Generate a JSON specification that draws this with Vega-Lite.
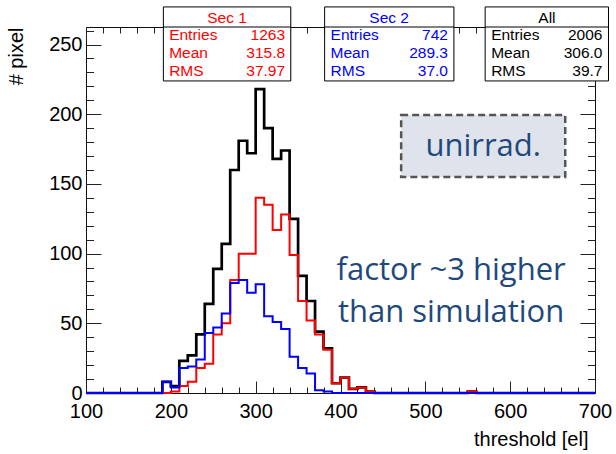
{
"$schema": "https://vega.github.io/schema/vega-lite/v6.json",
"width": 509, "height": 366,
"autosize": {"type": "none"},
"padding": {"left": 86, "top": 27, "right": 21, "bottom": 61},
"background": "white",
"config": {"font": "Liberation Sans", "view": {"stroke": "#111", "strokeWidth": 1},
 "axis": {"grid": false, "domain": false, "tickColor": "#222", "labelColor": "#000", "labelFont": "Liberation Sans", "labelFontSize": 20, "labelFlush": false, "labelOverlap": false, "titleFont": "Liberation Sans", "titleFontSize": 20, "titleFontWeight": "normal", "titleColor": "#000"}},
"datasets": {"hist": [
{"bin":100,"all":0,"sec1":0,"sec2":0},{"bin":110,"all":0,"sec1":0,"sec2":0},{"bin":120,"all":0,"sec1":0,"sec2":0},{"bin":130,"all":0,"sec1":0,"sec2":0},{"bin":140,"all":0,"sec1":0,"sec2":0},{"bin":150,"all":0,"sec1":0,"sec2":0},{"bin":160,"all":0,"sec1":0,"sec2":0},{"bin":170,"all":0,"sec1":0,"sec2":0},{"bin":180,"all":0,"sec1":0,"sec2":0},
{"bin":190,"all":8,"sec1":0,"sec2":8},{"bin":200,"all":5,"sec1":1,"sec2":4},{"bin":210,"all":23,"sec1":5,"sec2":18},{"bin":220,"all":27,"sec1":8,"sec2":19},{"bin":230,"all":42,"sec1":18,"sec2":24},{"bin":240,"all":64,"sec1":21,"sec2":43},{"bin":250,"all":89,"sec1":42,"sec2":47},{"bin":260,"all":107,"sec1":50,"sec2":57},{"bin":270,"all":160,"sec1":81,"sec2":79},{"bin":280,"all":181,"sec1":100,"sec2":81},{"bin":290,"all":172,"sec1":100,"sec2":72},{"bin":300,"all":218,"sec1":140,"sec2":78},{"bin":310,"all":190,"sec1":135,"sec2":55},{"bin":320,"all":168,"sec1":117,"sec2":51},{"bin":330,"all":174,"sec1":128,"sec2":46},{"bin":340,"all":125,"sec1":99,"sec2":26},{"bin":350,"all":84,"sec1":66,"sec2":18},{"bin":360,"all":66,"sec1":52,"sec2":14},{"bin":370,"all":44,"sec1":42,"sec2":2},{"bin":380,"all":32,"sec1":31,"sec2":1},{"bin":390,"all":7,"sec1":7,"sec2":0},{"bin":400,"all":11,"sec1":11,"sec2":0},{"bin":410,"all":3,"sec1":3,"sec2":0},{"bin":420,"all":4,"sec1":4,"sec2":0},{"bin":430,"all":1,"sec1":1,"sec2":0},
{"bin":440,"all":0,"sec1":0,"sec2":0},{"bin":450,"all":0,"sec1":0,"sec2":0},{"bin":460,"all":0,"sec1":0,"sec2":0},{"bin":470,"all":0,"sec1":0,"sec2":0},{"bin":480,"all":0,"sec1":0,"sec2":0},{"bin":490,"all":0,"sec1":0,"sec2":0},{"bin":500,"all":0,"sec1":0,"sec2":0},{"bin":510,"all":0,"sec1":0,"sec2":0},{"bin":520,"all":0,"sec1":0,"sec2":0},{"bin":530,"all":0,"sec1":0,"sec2":0},{"bin":540,"all":0,"sec1":0,"sec2":0},
{"bin":550,"all":1,"sec1":1,"sec2":0},
{"bin":560,"all":0,"sec1":0,"sec2":0},{"bin":570,"all":0,"sec1":0,"sec2":0},{"bin":580,"all":0,"sec1":0,"sec2":0},{"bin":590,"all":0,"sec1":0,"sec2":0},{"bin":600,"all":0,"sec1":0,"sec2":0},{"bin":610,"all":0,"sec1":0,"sec2":0},{"bin":620,"all":0,"sec1":0,"sec2":0},{"bin":630,"all":0,"sec1":0,"sec2":0},{"bin":640,"all":0,"sec1":0,"sec2":0},{"bin":650,"all":0,"sec1":0,"sec2":0},{"bin":660,"all":0,"sec1":0,"sec2":0},{"bin":670,"all":0,"sec1":0,"sec2":0},{"bin":680,"all":0,"sec1":0,"sec2":0},{"bin":690,"all":0,"sec1":0,"sec2":0},{"bin":700,"all":0,"sec1":0,"sec2":0}
]},
"resolve": {"axis": {"x": "independent", "y": "independent"}},
"layer": [
 {"data": {"name": "hist"},
  "mark": {"type": "line", "interpolate": "step-after", "color": "#000", "strokeWidth": 2.7},
  "encoding": {
   "x": {"field": "bin", "type": "quantitative", "scale": {"domain": [100, 700], "nice": false, "zero": false},
     "axis": {"orient": "bottom", "values": [100,200,300,400,500,600,700], "tickSize": -12, "labelPadding": 20, "title": "threshold [el]", "titleX": 502, "titleY": 52, "titleAlign": "right", "titleBaseline": "alphabetic"}},
   "y": {"field": "all", "type": "quantitative", "scale": {"domain": [0, 262.6], "nice": false},
     "axis": {"orient": "left", "values": [0,50,100,150,200,250], "tickSize": -15, "labelPadding": 19, "title": "# pixel", "titleX": -70, "titleY": 0, "titleAngle": -90, "titleAlign": "right", "titleBaseline": "middle"}}
  }},
 {"data": {"name": "hist"},
  "mark": {"type": "line", "interpolate": "step-after", "color": "#ff0000", "strokeWidth": 2},
  "encoding": {
   "x": {"field": "bin", "type": "quantitative",
     "axis": {"orient": "bottom", "values": [100,120,140,160,180,200,220,240,260,280,300,320,340,360,380,400,420,440,460,480,500,520,540,560,580,600,620,640,660,680,700], "tickSize": -6, "labels": false, "title": null}},
   "y": {"field": "sec1", "type": "quantitative",
     "axis": {"orient": "left", "values": [0,10,20,30,40,50,60,70,80,90,100,110,120,130,140,150,160,170,180,190,200,210,220,230,240,250,260], "tickSize": -7.5, "labels": false, "title": null}}
  }},
 {"data": {"name": "hist"},
  "mark": {"type": "line", "interpolate": "step-after", "color": "#0000ff", "strokeWidth": 2},
  "encoding": {
   "x": {"field": "bin", "type": "quantitative",
     "axis": {"orient": "top", "values": [100,200,300,400,500,600,700], "tickSize": -12, "labels": false, "title": null}},
   "y": {"field": "sec2", "type": "quantitative",
     "axis": {"orient": "right", "values": [0,50,100,150,200,250], "tickSize": -15, "labels": false, "title": null}}
  }},
 {"data": {"values": [{}]},
  "mark": {"type": "rect", "fill": "#dfe3ec", "stroke": "#555555", "strokeDash": [7, 4], "strokeWidth": 2.5},
  "encoding": {
   "x": {"datum": 471.5, "type": "quantitative",
     "axis": {"orient": "top", "values": [100,120,140,160,180,200,220,240,260,280,300,320,340,360,380,400,420,440,460,480,500,520,540,560,580,600,620,640,660,680,700], "tickSize": -6, "labels": false, "title": null}},
   "x2": {"datum": 664.9},
   "y": {"datum": 199.5, "type": "quantitative",
     "axis": {"orient": "right", "values": [0,10,20,30,40,50,60,70,80,90,100,110,120,130,140,150,160,170,180,190,200,210,220,230,240,250,260], "tickSize": -7.5, "labels": false, "title": null}},
   "y2": {"datum": 155}
  }},
 {"data": {"values": [{}]},
  "layer": [
   {"mark": {"type": "text", "text": "unirrad.", "font": "Open Sans", "fontSize": 31, "color": "#1f497d", "align": "center", "baseline": "alphabetic"},
    "encoding": {"x": {"datum": 568.2, "type": "quantitative", "axis": null}, "y": {"datum": 170.3, "type": "quantitative", "axis": null}}},
   {"mark": {"type": "text", "text": ["factor ~3 higher", "than simulation"], "lineHeight": 42, "font": "Open Sans", "fontSize": 31, "color": "#1f497d", "align": "center", "baseline": "alphabetic"},
    "encoding": {"x": {"datum": 530.4, "type": "quantitative", "axis": null}, "y": {"datum": 81.1, "type": "quantitative", "axis": null}}},

   {"mark": {"type": "rect", "color": "#000", "xOffset": 1.5, "yOffset": 1.5},
    "encoding": {"x": {"datum": 191.2, "type": "quantitative", "axis": null}, "x2": {"datum": 341.4}, "y": {"datum": 277, "type": "quantitative", "axis": null}, "y2": {"datum": 223.9}}},
   {"mark": {"type": "rect", "fill": "#fff", "stroke": "#000", "strokeWidth": 1},
    "encoding": {"x": {"datum": 191.2, "type": "quantitative", "axis": null}, "x2": {"datum": 341.4}, "y": {"datum": 277, "type": "quantitative", "axis": null}, "y2": {"datum": 223.9}}},
   {"mark": {"type": "rule", "color": "#000", "strokeWidth": 1},
    "encoding": {"x": {"datum": 191.2, "type": "quantitative", "axis": null}, "x2": {"datum": 341.4}, "y": {"datum": 262.6, "type": "quantitative", "axis": null}}},
   {"mark": {"type": "text", "text": "Sec 1", "fontSize": 15.5, "color": "#ff0000", "align": "center", "baseline": "alphabetic"},
    "encoding": {"x": {"datum": 266.3, "type": "quantitative", "axis": null}, "y": {"datum": 265.6, "type": "quantitative", "axis": null}}},
   {"mark": {"type": "text", "text": ["Entries", "Mean", "RMS"], "lineHeight": 18, "fontSize": 15.5, "color": "#ff0000", "align": "left", "baseline": "alphabetic"},
    "encoding": {"x": {"datum": 198.0, "type": "quantitative", "axis": null}, "y": {"datum": 253.3, "type": "quantitative", "axis": null}}},
   {"mark": {"type": "text", "text": ["1263", "315.8", "37.97"], "lineHeight": 18, "fontSize": 15.5, "color": "#ff0000", "align": "right", "baseline": "alphabetic"},
    "encoding": {"x": {"datum": 334.7, "type": "quantitative", "axis": null}, "y": {"datum": 253.3, "type": "quantitative", "axis": null}}},

   {"mark": {"type": "rect", "color": "#000", "xOffset": 1.5, "yOffset": 1.5},
    "encoding": {"x": {"datum": 381.3, "type": "quantitative", "axis": null}, "x2": {"datum": 533.7}, "y": {"datum": 277, "type": "quantitative", "axis": null}, "y2": {"datum": 223.9}}},
   {"mark": {"type": "rect", "fill": "#fff", "stroke": "#000", "strokeWidth": 1},
    "encoding": {"x": {"datum": 381.3, "type": "quantitative", "axis": null}, "x2": {"datum": 533.7}, "y": {"datum": 277, "type": "quantitative", "axis": null}, "y2": {"datum": 223.9}}},
   {"mark": {"type": "rule", "color": "#000", "strokeWidth": 1},
    "encoding": {"x": {"datum": 381.3, "type": "quantitative", "axis": null}, "x2": {"datum": 533.7}, "y": {"datum": 262.6, "type": "quantitative", "axis": null}}},
   {"mark": {"type": "text", "text": "Sec 2", "fontSize": 15.5, "color": "#0000ff", "align": "center", "baseline": "alphabetic"},
    "encoding": {"x": {"datum": 457.3, "type": "quantitative", "axis": null}, "y": {"datum": 265.6, "type": "quantitative", "axis": null}}},
   {"mark": {"type": "text", "text": ["Entries", "Mean", "RMS"], "lineHeight": 18, "fontSize": 15.5, "color": "#0000ff", "align": "left", "baseline": "alphabetic"},
    "encoding": {"x": {"datum": 388.3, "type": "quantitative", "axis": null}, "y": {"datum": 253.3, "type": "quantitative", "axis": null}}},
   {"mark": {"type": "text", "text": ["742", "289.3", "37.0"], "lineHeight": 18, "fontSize": 15.5, "color": "#0000ff", "align": "right", "baseline": "alphabetic"},
    "encoding": {"x": {"datum": 526.7, "type": "quantitative", "axis": null}, "y": {"datum": 253.3, "type": "quantitative", "axis": null}}},

   {"mark": {"type": "rect", "color": "#000", "xOffset": 1.5, "yOffset": 1.5},
    "encoding": {"x": {"datum": 570.5, "type": "quantitative", "axis": null}, "x2": {"datum": 715.9}, "y": {"datum": 277, "type": "quantitative", "axis": null}, "y2": {"datum": 223.9}}},
   {"mark": {"type": "rect", "fill": "#fff", "stroke": "#000", "strokeWidth": 1},
    "encoding": {"x": {"datum": 570.5, "type": "quantitative", "axis": null}, "x2": {"datum": 715.9}, "y": {"datum": 277, "type": "quantitative", "axis": null}, "y2": {"datum": 223.9}}},
   {"mark": {"type": "rule", "color": "#000", "strokeWidth": 1},
    "encoding": {"x": {"datum": 570.5, "type": "quantitative", "axis": null}, "x2": {"datum": 715.9}, "y": {"datum": 262.6, "type": "quantitative", "axis": null}}},
   {"mark": {"type": "text", "text": "All", "fontSize": 15.5, "color": "#000", "align": "center", "baseline": "alphabetic"},
    "encoding": {"x": {"datum": 643.3, "type": "quantitative", "axis": null}, "y": {"datum": 265.6, "type": "quantitative", "axis": null}}},
   {"mark": {"type": "text", "text": ["Entries", "Mean", "RMS"], "lineHeight": 18, "fontSize": 15.5, "color": "#000", "align": "left", "baseline": "alphabetic"},
    "encoding": {"x": {"datum": 577.6, "type": "quantitative", "axis": null}, "y": {"datum": 253.3, "type": "quantitative", "axis": null}}},
   {"mark": {"type": "text", "text": ["2006", "306.0", "39.7"], "lineHeight": 18, "fontSize": 15.5, "color": "#000", "align": "right", "baseline": "alphabetic"},
    "encoding": {"x": {"datum": 708.8, "type": "quantitative", "axis": null}, "y": {"datum": 253.3, "type": "quantitative", "axis": null}}}
  ]}
]
}
